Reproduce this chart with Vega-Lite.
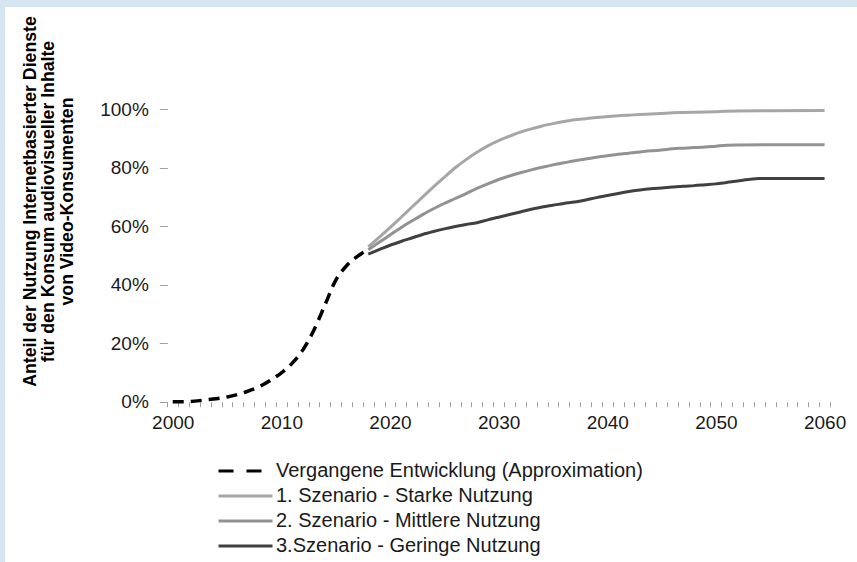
{
  "$schema": "https://vega.github.io/schema/vega-lite/v6.json",
  "width": 852,
  "height": 555,
  "autosize": {"type": "none"},
  "padding": {"left": 5, "top": 7, "right": 0, "bottom": 0},
  "background": "#d6e6f0",
  "config": {"view": {"fill": "white", "stroke": null}, "font": "Liberation Sans"},
  "data": {"values": [
    {"year": 2000, "series": "Vergangene Entwicklung (Approximation)", "value": 0},
    {"year": 2001, "series": "Vergangene Entwicklung (Approximation)", "value": 0},
    {"year": 2002, "series": "Vergangene Entwicklung (Approximation)", "value": 0.002},
    {"year": 2003, "series": "Vergangene Entwicklung (Approximation)", "value": 0.006},
    {"year": 2004, "series": "Vergangene Entwicklung (Approximation)", "value": 0.01},
    {"year": 2005, "series": "Vergangene Entwicklung (Approximation)", "value": 0.016},
    {"year": 2006, "series": "Vergangene Entwicklung (Approximation)", "value": 0.025},
    {"year": 2007, "series": "Vergangene Entwicklung (Approximation)", "value": 0.037},
    {"year": 2008, "series": "Vergangene Entwicklung (Approximation)", "value": 0.052},
    {"year": 2009, "series": "Vergangene Entwicklung (Approximation)", "value": 0.073},
    {"year": 2010, "series": "Vergangene Entwicklung (Approximation)", "value": 0.099},
    {"year": 2011, "series": "Vergangene Entwicklung (Approximation)", "value": 0.132},
    {"year": 2012, "series": "Vergangene Entwicklung (Approximation)", "value": 0.178},
    {"year": 2013, "series": "Vergangene Entwicklung (Approximation)", "value": 0.245},
    {"year": 2014, "series": "Vergangene Entwicklung (Approximation)", "value": 0.33},
    {"year": 2015, "series": "Vergangene Entwicklung (Approximation)", "value": 0.415},
    {"year": 2016, "series": "Vergangene Entwicklung (Approximation)", "value": 0.465},
    {"year": 2017, "series": "Vergangene Entwicklung (Approximation)", "value": 0.497},
    {"year": 2018, "series": "Vergangene Entwicklung (Approximation)", "value": 0.52},

    {"year": 2018, "series": "1. Szenario - Starke Nutzung", "value": 0.53},
    {"year": 2019, "series": "1. Szenario - Starke Nutzung", "value": 0.562},
    {"year": 2020, "series": "1. Szenario - Starke Nutzung", "value": 0.595},
    {"year": 2021, "series": "1. Szenario - Starke Nutzung", "value": 0.63},
    {"year": 2022, "series": "1. Szenario - Starke Nutzung", "value": 0.665},
    {"year": 2023, "series": "1. Szenario - Starke Nutzung", "value": 0.7},
    {"year": 2024, "series": "1. Szenario - Starke Nutzung", "value": 0.735},
    {"year": 2025, "series": "1. Szenario - Starke Nutzung", "value": 0.768},
    {"year": 2026, "series": "1. Szenario - Starke Nutzung", "value": 0.8},
    {"year": 2027, "series": "1. Szenario - Starke Nutzung", "value": 0.828},
    {"year": 2028, "series": "1. Szenario - Starke Nutzung", "value": 0.853},
    {"year": 2029, "series": "1. Szenario - Starke Nutzung", "value": 0.875},
    {"year": 2030, "series": "1. Szenario - Starke Nutzung", "value": 0.893},
    {"year": 2031, "series": "1. Szenario - Starke Nutzung", "value": 0.908},
    {"year": 2032, "series": "1. Szenario - Starke Nutzung", "value": 0.922},
    {"year": 2033, "series": "1. Szenario - Starke Nutzung", "value": 0.933},
    {"year": 2034, "series": "1. Szenario - Starke Nutzung", "value": 0.943},
    {"year": 2035, "series": "1. Szenario - Starke Nutzung", "value": 0.951},
    {"year": 2036, "series": "1. Szenario - Starke Nutzung", "value": 0.958},
    {"year": 2037, "series": "1. Szenario - Starke Nutzung", "value": 0.964},
    {"year": 2038, "series": "1. Szenario - Starke Nutzung", "value": 0.968},
    {"year": 2039, "series": "1. Szenario - Starke Nutzung", "value": 0.972},
    {"year": 2040, "series": "1. Szenario - Starke Nutzung", "value": 0.975},
    {"year": 2041, "series": "1. Szenario - Starke Nutzung", "value": 0.978},
    {"year": 2042, "series": "1. Szenario - Starke Nutzung", "value": 0.98},
    {"year": 2043, "series": "1. Szenario - Starke Nutzung", "value": 0.982},
    {"year": 2044, "series": "1. Szenario - Starke Nutzung", "value": 0.984},
    {"year": 2045, "series": "1. Szenario - Starke Nutzung", "value": 0.986},
    {"year": 2046, "series": "1. Szenario - Starke Nutzung", "value": 0.988},
    {"year": 2047, "series": "1. Szenario - Starke Nutzung", "value": 0.989},
    {"year": 2048, "series": "1. Szenario - Starke Nutzung", "value": 0.99},
    {"year": 2049, "series": "1. Szenario - Starke Nutzung", "value": 0.991},
    {"year": 2050, "series": "1. Szenario - Starke Nutzung", "value": 0.992},
    {"year": 2052, "series": "1. Szenario - Starke Nutzung", "value": 0.994},
    {"year": 2055, "series": "1. Szenario - Starke Nutzung", "value": 0.995},
    {"year": 2060, "series": "1. Szenario - Starke Nutzung", "value": 0.996},

    {"year": 2018, "series": "2. Szenario - Mittlere Nutzung", "value": 0.52},
    {"year": 2019, "series": "2. Szenario - Mittlere Nutzung", "value": 0.545},
    {"year": 2020, "series": "2. Szenario - Mittlere Nutzung", "value": 0.57},
    {"year": 2021, "series": "2. Szenario - Mittlere Nutzung", "value": 0.595},
    {"year": 2022, "series": "2. Szenario - Mittlere Nutzung", "value": 0.618},
    {"year": 2023, "series": "2. Szenario - Mittlere Nutzung", "value": 0.64},
    {"year": 2024, "series": "2. Szenario - Mittlere Nutzung", "value": 0.66},
    {"year": 2025, "series": "2. Szenario - Mittlere Nutzung", "value": 0.678},
    {"year": 2026, "series": "2. Szenario - Mittlere Nutzung", "value": 0.695},
    {"year": 2027, "series": "2. Szenario - Mittlere Nutzung", "value": 0.712},
    {"year": 2028, "series": "2. Szenario - Mittlere Nutzung", "value": 0.73},
    {"year": 2029, "series": "2. Szenario - Mittlere Nutzung", "value": 0.745},
    {"year": 2030, "series": "2. Szenario - Mittlere Nutzung", "value": 0.76},
    {"year": 2031, "series": "2. Szenario - Mittlere Nutzung", "value": 0.772},
    {"year": 2032, "series": "2. Szenario - Mittlere Nutzung", "value": 0.783},
    {"year": 2033, "series": "2. Szenario - Mittlere Nutzung", "value": 0.793},
    {"year": 2034, "series": "2. Szenario - Mittlere Nutzung", "value": 0.802},
    {"year": 2035, "series": "2. Szenario - Mittlere Nutzung", "value": 0.81},
    {"year": 2036, "series": "2. Szenario - Mittlere Nutzung", "value": 0.817},
    {"year": 2037, "series": "2. Szenario - Mittlere Nutzung", "value": 0.824},
    {"year": 2038, "series": "2. Szenario - Mittlere Nutzung", "value": 0.83},
    {"year": 2039, "series": "2. Szenario - Mittlere Nutzung", "value": 0.836},
    {"year": 2040, "series": "2. Szenario - Mittlere Nutzung", "value": 0.841},
    {"year": 2041, "series": "2. Szenario - Mittlere Nutzung", "value": 0.846},
    {"year": 2042, "series": "2. Szenario - Mittlere Nutzung", "value": 0.85},
    {"year": 2043, "series": "2. Szenario - Mittlere Nutzung", "value": 0.854},
    {"year": 2044, "series": "2. Szenario - Mittlere Nutzung", "value": 0.858},
    {"year": 2045, "series": "2. Szenario - Mittlere Nutzung", "value": 0.861},
    {"year": 2046, "series": "2. Szenario - Mittlere Nutzung", "value": 0.865},
    {"year": 2047, "series": "2. Szenario - Mittlere Nutzung", "value": 0.867},
    {"year": 2048, "series": "2. Szenario - Mittlere Nutzung", "value": 0.869},
    {"year": 2049, "series": "2. Szenario - Mittlere Nutzung", "value": 0.871},
    {"year": 2050, "series": "2. Szenario - Mittlere Nutzung", "value": 0.874},
    {"year": 2051, "series": "2. Szenario - Mittlere Nutzung", "value": 0.877},
    {"year": 2052, "series": "2. Szenario - Mittlere Nutzung", "value": 0.878},
    {"year": 2055, "series": "2. Szenario - Mittlere Nutzung", "value": 0.879},
    {"year": 2060, "series": "2. Szenario - Mittlere Nutzung", "value": 0.879},

    {"year": 2018, "series": "3.Szenario - Geringe Nutzung", "value": 0.505},
    {"year": 2019, "series": "3.Szenario - Geringe Nutzung", "value": 0.52},
    {"year": 2020, "series": "3.Szenario - Geringe Nutzung", "value": 0.535},
    {"year": 2021, "series": "3.Szenario - Geringe Nutzung", "value": 0.548},
    {"year": 2022, "series": "3.Szenario - Geringe Nutzung", "value": 0.56},
    {"year": 2023, "series": "3.Szenario - Geringe Nutzung", "value": 0.572},
    {"year": 2024, "series": "3.Szenario - Geringe Nutzung", "value": 0.582},
    {"year": 2025, "series": "3.Szenario - Geringe Nutzung", "value": 0.591},
    {"year": 2026, "series": "3.Szenario - Geringe Nutzung", "value": 0.599},
    {"year": 2027, "series": "3.Szenario - Geringe Nutzung", "value": 0.606},
    {"year": 2028, "series": "3.Szenario - Geringe Nutzung", "value": 0.612},
    {"year": 2029, "series": "3.Szenario - Geringe Nutzung", "value": 0.622},
    {"year": 2030, "series": "3.Szenario - Geringe Nutzung", "value": 0.631},
    {"year": 2031, "series": "3.Szenario - Geringe Nutzung", "value": 0.64},
    {"year": 2032, "series": "3.Szenario - Geringe Nutzung", "value": 0.649},
    {"year": 2033, "series": "3.Szenario - Geringe Nutzung", "value": 0.658},
    {"year": 2034, "series": "3.Szenario - Geringe Nutzung", "value": 0.666},
    {"year": 2035, "series": "3.Szenario - Geringe Nutzung", "value": 0.672},
    {"year": 2036, "series": "3.Szenario - Geringe Nutzung", "value": 0.678},
    {"year": 2037, "series": "3.Szenario - Geringe Nutzung", "value": 0.683},
    {"year": 2038, "series": "3.Szenario - Geringe Nutzung", "value": 0.69},
    {"year": 2039, "series": "3.Szenario - Geringe Nutzung", "value": 0.698},
    {"year": 2040, "series": "3.Szenario - Geringe Nutzung", "value": 0.705},
    {"year": 2041, "series": "3.Szenario - Geringe Nutzung", "value": 0.712},
    {"year": 2042, "series": "3.Szenario - Geringe Nutzung", "value": 0.719},
    {"year": 2043, "series": "3.Szenario - Geringe Nutzung", "value": 0.724},
    {"year": 2044, "series": "3.Szenario - Geringe Nutzung", "value": 0.728},
    {"year": 2045, "series": "3.Szenario - Geringe Nutzung", "value": 0.731},
    {"year": 2046, "series": "3.Szenario - Geringe Nutzung", "value": 0.734},
    {"year": 2047, "series": "3.Szenario - Geringe Nutzung", "value": 0.737},
    {"year": 2048, "series": "3.Szenario - Geringe Nutzung", "value": 0.739},
    {"year": 2049, "series": "3.Szenario - Geringe Nutzung", "value": 0.742},
    {"year": 2050, "series": "3.Szenario - Geringe Nutzung", "value": 0.745},
    {"year": 2051, "series": "3.Szenario - Geringe Nutzung", "value": 0.75},
    {"year": 2052, "series": "3.Szenario - Geringe Nutzung", "value": 0.755},
    {"year": 2053, "series": "3.Szenario - Geringe Nutzung", "value": 0.76},
    {"year": 2054, "series": "3.Szenario - Geringe Nutzung", "value": 0.763},
    {"year": 2060, "series": "3.Szenario - Geringe Nutzung", "value": 0.763}
  ]},
  "encoding": {
    "x": {"field": "year", "type": "quantitative", "scale": {"domain": [1984.561, 2062.985]}, "axis": {
      "values": [1999.5, 2000, 2000.5, 2001.5, 2002.5, 2003.5, 2004.5, 2005.5, 2006.5, 2007.5, 2008.5, 2009.5, 2010, 2010.5, 2011.5, 2012.5, 2013.5, 2014.5, 2015.5, 2016.5, 2017.5, 2018.5, 2019.5, 2020, 2020.5, 2021.5, 2022.5, 2023.5, 2024.5, 2025.5, 2026.5, 2027.5, 2028.5, 2029.5, 2030, 2030.5, 2031.5, 2032.5, 2033.5, 2034.5, 2035.5, 2036.5, 2037.5, 2038.5, 2039.5, 2040, 2040.5, 2041.5, 2042.5, 2043.5, 2044.5, 2045.5, 2046.5, 2047.5, 2048.5, 2049.5, 2050, 2050.5, 2051.5, 2052.5, 2053.5, 2054.5, 2055.5, 2056.5, 2057.5, 2058.5, 2059.5, 2060, 2060.5],
      "format": "d",
      "labelExpr": "datum.value % 10 === 0 ? datum.label : ''",
      "tickOpacity": {"condition": {"test": "datum.value % 1 === 0", "value": 0}, "value": 1},
      "tickSize": 5, "tickColor": "#a0a0a0", "tickWidth": 1,
      "offset": -160.3, "domain": false, "grid": false, "title": null,
      "labelFontSize": 19, "labelColor": "#1a1a1a", "labelPadding": 7,
      "labelOverlap": false, "labelFlush": false, "labelBound": false
    }},
    "y": {"field": "value", "type": "quantitative", "scale": {"domain": [-0.5482, 1.3499]}, "axis": {
      "values": [0, 0.2, 0.4, 0.6, 0.8, 1],
      "format": ".0%",
      "domain": false, "grid": false, "offset": -162.3,
      "tickSize": 8, "tickColor": "#a0a0a0", "tickWidth": 1,
      "labelFontSize": 19, "labelColor": "#1a1a1a", "labelPadding": 11,
      "labelOverlap": false, "labelFlush": false, "labelBound": false,
      "title": ["Anteil der Nutzung Internetbasierter Dienste", "für den Konsum audiovisueller Inhalte", "von Video-Konsumenten"],
      "titleFontSize": 17.7, "titleFontWeight": "bold", "titleColor": "#000000",
      "titleAngle": -90, "titleX": -136.6, "titleY": 194,
      "titleAlign": "center", "titleBaseline": "middle", "titleLineHeight": 18.3
    }},
    "color": {
      "field": "series", "type": "nominal",
      "scale": {
        "domain": ["Vergangene Entwicklung (Approximation)", "1. Szenario - Starke Nutzung", "2. Szenario - Mittlere Nutzung", "3.Szenario - Geringe Nutzung"],
        "range": ["#000000", "#a6a6a6", "#929292", "#404040"]
      },
      "legend": {
        "orient": "none", "legendX": 225.5, "legendY": 449, "direction": "vertical",
        "title": null, "padding": 0,
        "symbolType": "M-2,0H2", "symbolSize": 729, "symbolStrokeWidth": 3,
        "labelFontSize": 20, "labelColor": "#1a1a1a", "labelOffset": 15.5, "labelLimit": 600,
        "rowPadding": 0,
        "encode": {"symbols": {"update": {
          "strokeDash": {"signal": "datum.value === 'Vergangene Entwicklung (Approximation)' ? [15, 13] : [1, 0]"}
        }}}
      }
    }
  },
  "layer": [
    {
      "transform": [{"filter": "datum.series !== 'Vergangene Entwicklung (Approximation)'"}],
      "mark": {"type": "line", "strokeWidth": 3, "interpolate": "monotone"}
    },
    {
      "transform": [{"filter": "datum.series === 'Vergangene Entwicklung (Approximation)'"}],
      "mark": {"type": "line", "strokeWidth": 3.5, "strokeDash": [11, 7], "interpolate": "monotone"}
    },
    {
      "data": {"values": [{}]},
      "mark": {"type": "rule", "color": "#a0a0a0", "strokeWidth": 1},
      "encoding": {
        "x": {"datum": 1999.5, "type": "quantitative"},
        "x2": {"datum": 2060.5},
        "y": {"datum": 0, "type": "quantitative"},
        "color": {"value": "#a0a0a0"}
      }
    },
    {
      "data": {"values": [{}]},
      "mark": {"type": "rule", "color": "#a0a0a0", "strokeWidth": 1},
      "encoding": {
        "x": {"datum": 1999.5, "type": "quantitative"},
        "y": {"datum": 0, "type": "quantitative"},
        "y2": {"datum": 1.1},
        "color": {"value": "#a0a0a0"}
      }
    }
  ]
}
